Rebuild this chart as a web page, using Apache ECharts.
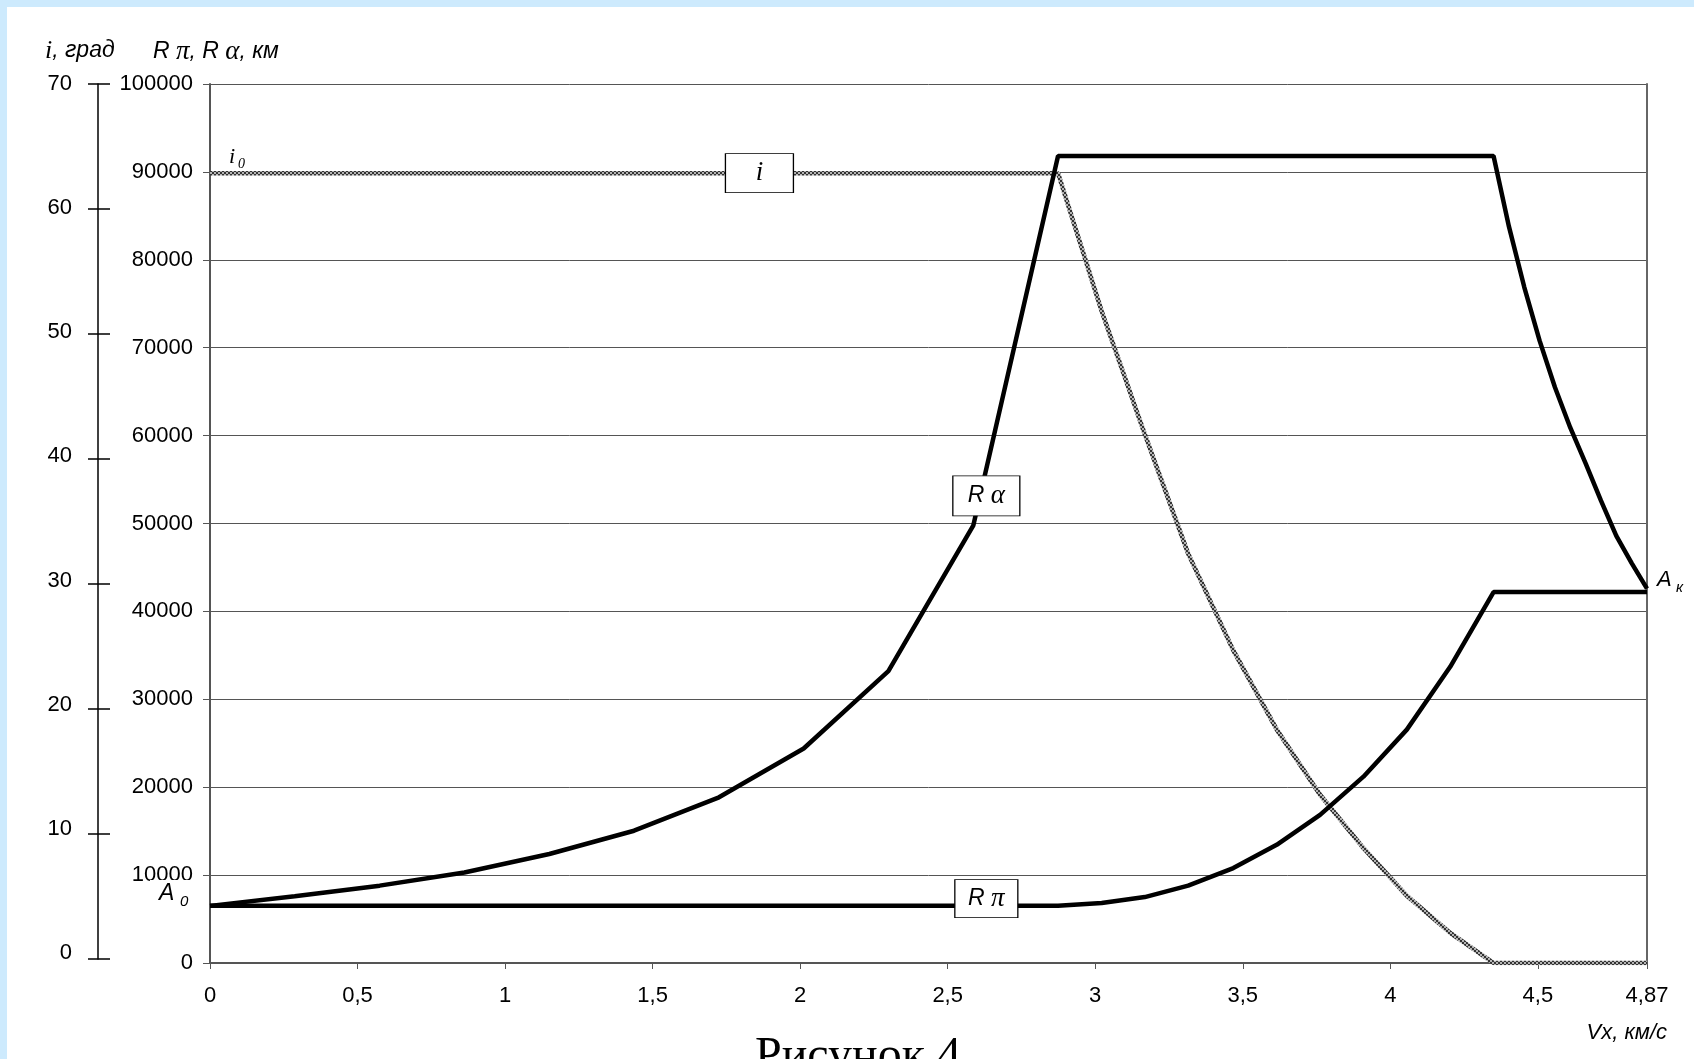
<!DOCTYPE html>
<html>
<head>
<meta charset="utf-8">
<script src="https://cdn.jsdelivr.net/npm/echarts@6/dist/echarts.min.js"></script>
<style>
html, body { margin: 0; padding: 0; background: #fff; }
#chart { position: absolute; left: 0; top: 0; width: 1694px; height: 1059px; }
.edge { position: absolute; background: #cdeafd; z-index: 5; }
</style>
</head>
<body>
<div id="chart"></div>
<div class="edge" style="left:0;top:0;width:7px;height:1059px"></div>
<div class="edge" style="left:0;top:0;width:1694px;height:7px"></div>
<script>
// Vx, km/s
var vx = [0, 0.287, 0.575, 0.862, 1.150, 1.437, 1.725, 2.012, 2.299, 2.587, 2.874,
          3.022, 3.168, 3.315, 3.468, 3.615, 3.762, 3.909, 4.056, 4.203, 4.350,
          4.402, 4.454, 4.506, 4.558, 4.610, 4.662, 4.714, 4.766, 4.818, 4.870];
// R alpha, km
var rAlpha = [6500, 7600, 8800, 10300, 12400, 15050, 18850, 24400, 33200, 49800, 91800,
              91800, 91800, 91800, 91800, 91800, 91800, 91800, 91800, 91800, 91800,
              83800, 76900, 70800, 65500, 60900, 56850, 52600, 48600, 45500, 42600];
// R pi, km
var rPi = [6500, 6500, 6500, 6500, 6500, 6500, 6500, 6500, 6500, 6500, 6500,
           6820, 7500, 8800, 10800, 13450, 16850, 21200, 26550, 33700, 42200,
           42200, 42200, 42200, 42200, 42200, 42200, 42200, 42200, 42200, 42200];
// i, deg
var incl = [62.9, 62.9, 62.9, 62.9, 62.9, 62.9, 62.9, 62.9, 62.9, 62.9, 62.9,
            51.9, 42.1, 32.6, 24.9, 18.6, 13.4, 9.15, 5.35, 2.4, 0,
            0, 0, 0, 0, 0, 0, 0, 0, 0, 0];
// axis ranges: [min, max, interval]
var vxRange = [0, 4.87, 0.5];
var rRange = [0, 100000, 10000];
var iRange = [0, 70, 10];

var chart = echarts.init(document.getElementById('chart'));

function pairs(ys) {
    return vx.map(function (x, k) { return [x, ys[k]]; });
}
var sans = 'Liberation Sans, Arial, sans-serif';
var serif = 'Liberation Serif, Times New Roman, serif';

// checkered grey texture of the i line
var tex = document.createElement('canvas');
tex.width = 4; tex.height = 4;
var tc = tex.getContext('2d');
tc.fillStyle = '#b4b4b4'; tc.fillRect(0, 0, 4, 4);
tc.fillStyle = '#333'; tc.fillRect(0, 0, 2, 2); tc.fillRect(2, 2, 2, 2);

// i-axis labels sit a little higher than their ticks towards the bottom
var iRich = {};
for (var v = iRange[0]; v < iRange[1]; v += iRange[2]) {
    iRich['u' + v] = {
        fontSize: 22, fontFamily: sans, color: '#000',
        padding: [0, 0, Math.round((iRange[1] - v) / iRange[1] * 13), 0]
    };
}

var option = {
    animation: false,
    backgroundColor: '#fff',
    grid: [
        { left: 210, right: 47, top: 84, bottom: 96 },
        { left: 98, width: 1, top: 84, bottom: 100 }
    ],
    xAxis: [
        {
            gridIndex: 0, type: 'value',
            min: vxRange[0], max: vxRange[1], interval: vxRange[2],
            axisLine: { show: true, lineStyle: { color: '#555', width: 2 } },
            axisTick: { show: true, length: 6, lineStyle: { color: '#555', width: 1 } },
            axisLabel: {
                margin: 22, color: '#000', fontSize: 22, fontFamily: sans,
                formatter: function (v) { return String(+v.toFixed(2)).replace('.', ','); }
            },
            splitLine: { show: false }
        },
        { gridIndex: 1, type: 'value', show: false, min: 0, max: 1 }
    ],
    yAxis: [
        {
            gridIndex: 0, type: 'value', position: 'left',
            min: rRange[0], max: rRange[1], interval: rRange[2],
            axisLine: { show: true, lineStyle: { color: '#555', width: 2 } },
            axisTick: { show: true, length: 7, lineStyle: { color: '#555', width: 1 } },
            axisLabel: {
                margin: 17, color: '#000', fontSize: 22, fontFamily: sans,
                formatter: function (v) { return String(v); }
            },
            splitLine: { show: true, lineStyle: { color: '#555', width: 1 } }
        },
        {
            gridIndex: 0, type: 'value', position: 'right',
            min: iRange[0], max: iRange[1], interval: iRange[2],
            axisLine: { show: true, lineStyle: { color: '#666', width: 2 } },
            axisTick: { show: false }, axisLabel: { show: false },
            splitLine: { show: false }
        },
        {
            gridIndex: 1, type: 'value', position: 'left',
            min: iRange[0], max: iRange[1], interval: iRange[2],
            axisLine: { show: true, lineStyle: { color: '#000', width: 1.5 } },
            axisTick: { show: true, length: 10, lineStyle: { color: '#000', width: 1.5 } },
            axisLabel: {
                margin: 26, color: '#000', fontSize: 22, fontFamily: sans,
                formatter: function (v) { return v === iRange[1] ? String(v) : '{u' + v + '|' + v + '}'; },
                rich: iRich
            },
            splitLine: { show: false }
        },
        {
            gridIndex: 1, type: 'value', position: 'left',
            min: iRange[0], max: iRange[1], interval: iRange[2],
            axisLine: { show: false },
            axisTick: { show: true, inside: true, length: 12, lineStyle: { color: '#000', width: 1.5 } },
            axisLabel: { show: false },
            splitLine: { show: false }
        }
    ],
    series: [
        {
            name: 'i', type: 'line', xAxisIndex: 0, yAxisIndex: 1,
            data: pairs(incl), symbol: 'none', z: 2,
            lineStyle: { color: { image: tex, repeat: 'repeat' }, width: 4.5 },
            markPoint: {
                symbol: 'rect', symbolSize: [68, 39], silent: true,
                itemStyle: { color: '#fff', borderColor: '#000', borderWidth: 1 },
                label: {
                    show: true, position: 'inside', formatter: 'i', color: '#000',
                    fontFamily: serif, fontStyle: 'italic', fontSize: 27
                },
                data: [{ coord: [1.862, 62.9] }]
            }
        },
        {
            name: 'Rα', type: 'line', xAxisIndex: 0, yAxisIndex: 0,
            data: pairs(rAlpha), symbol: 'none', z: 3,
            lineStyle: { color: '#000', width: 4.5 },
            markPoint: {
                symbol: 'rect', symbolSize: [67, 40], silent: true,
                itemStyle: { color: '#fff', borderColor: '#000', borderWidth: 1 },
                label: {
                    show: true, position: 'inside', formatter: '{r|R }{g|α}',
                    rich: {
                        r: { fontFamily: sans, fontStyle: 'italic', fontSize: 23, color: '#000' },
                        g: { fontFamily: serif, fontStyle: 'italic', fontSize: 27, color: '#000' }
                    }
                },
                data: [{ coord: [2.631, 53150] }]
            }
        },
        {
            name: 'Rπ', type: 'line', xAxisIndex: 0, yAxisIndex: 0,
            data: pairs(rPi), symbol: 'none', z: 3,
            lineStyle: { color: '#000', width: 4.5 },
            markPoint: {
                symbol: 'rect', symbolSize: [63, 38], silent: true,
                itemStyle: { color: '#fff', borderColor: '#000', borderWidth: 1 },
                label: {
                    show: true, position: 'inside', formatter: '{r|R }{g|π}',
                    rich: {
                        r: { fontFamily: sans, fontStyle: 'italic', fontSize: 23, color: '#000' },
                        g: { fontFamily: serif, fontStyle: 'italic', fontSize: 27, color: '#000' }
                    }
                },
                data: [{ coord: [2.631, 7330] }]
            }
        }
    ],
    graphic: [
        {
            type: 'text', x: 45, y: 38, z: 10,
            style: {
                text: '{a|i}{b|, град}', align: 'left', verticalAlign: 'top',
                rich: {
                    a: { fontFamily: serif, fontStyle: 'italic', fontSize: 26, fill: '#000' },
                    b: { fontFamily: sans, fontStyle: 'italic', fontSize: 23, fill: '#000' }
                }
            }
        },
        {
            type: 'text', x: 153, y: 38, z: 10,
            style: {
                text: '{r|R }{g|π}{r|, R }{g|α}{r|, км}', align: 'left', verticalAlign: 'top',
                rich: {
                    r: { fontFamily: sans, fontStyle: 'italic', fontSize: 23, fill: '#000' },
                    g: { fontFamily: serif, fontStyle: 'italic', fontSize: 27, fill: '#000' }
                }
            }
        },
        {
            type: 'text', x: 229, y: 146, z: 10,
            style: { text: 'i', fontFamily: serif, fontStyle: 'italic', fontSize: 22, fill: '#000', align: 'left', verticalAlign: 'top' }
        },
        {
            type: 'text', x: 238, y: 157, z: 10,
            style: { text: '0', fontFamily: serif, fontStyle: 'italic', fontSize: 14, fill: '#000', align: 'left', verticalAlign: 'top' }
        },
        {
            type: 'rect', z: 9, shape: { x: 150, y: 880, width: 46, height: 28 },
            style: { fill: '#fff' }
        },
        {
            type: 'text', x: 159, y: 882, z: 10,
            style: { text: 'A', fontFamily: sans, fontStyle: 'italic', fontSize: 23, fill: '#000', align: 'left', verticalAlign: 'top' }
        },
        {
            type: 'text', x: 180, y: 894, z: 10,
            style: { text: '0', fontFamily: sans, fontStyle: 'italic', fontSize: 15, fill: '#000', align: 'left', verticalAlign: 'top' }
        },
        {
            type: 'text', x: 1657, y: 569, z: 10,
            style: { text: 'A', fontFamily: sans, fontStyle: 'italic', fontSize: 22, fill: '#000', align: 'left', verticalAlign: 'top' }
        },
        {
            type: 'text', x: 1676, y: 580, z: 10,
            style: { text: 'к', fontFamily: sans, fontStyle: 'italic', fontSize: 15, fill: '#000', align: 'left', verticalAlign: 'top' }
        },
        {
            type: 'text', x: 1667, y: 1022, z: 10,
            style: { text: 'Vx, км/с', fontFamily: sans, fontStyle: 'italic', fontSize: 22, fill: '#000', align: 'right', verticalAlign: 'top' }
        },
        {
            type: 'text', x: 858, y: 1033, z: 10,
            style: { text: 'Рисунок 4', fontFamily: serif, fontSize: 48, fill: '#000', align: 'center', verticalAlign: 'top' }
        }
    ]
};

chart.setOption(option);
window.addEventListener('resize', function () {
    chart.resize();
});
</script>
</body>
</html>
